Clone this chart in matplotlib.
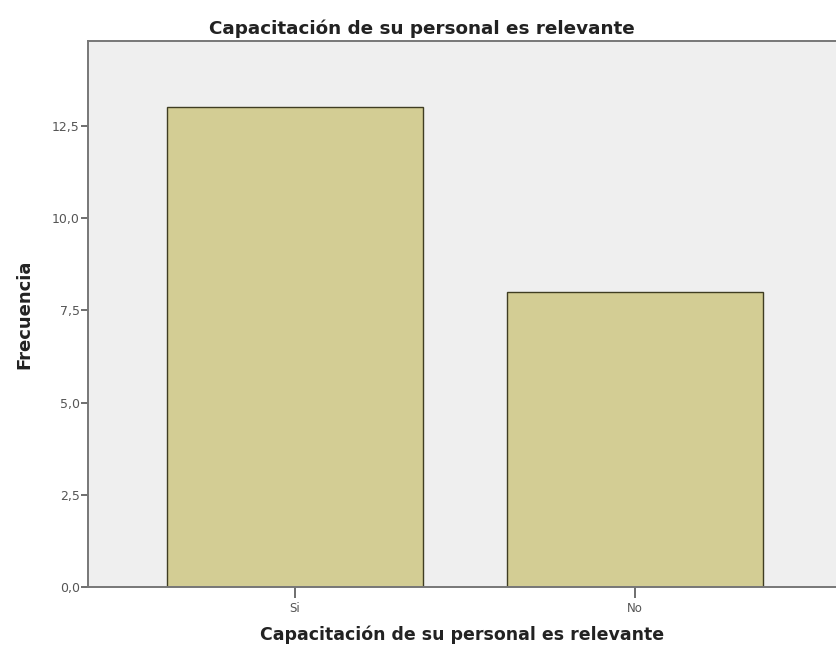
import matplotlib
matplotlib.use('Agg')
import matplotlib.pyplot as plt
from matplotlib.ticker import FuncFormatter

# Datos
categorias = ['Si', 'No']
frecuencias = [13, 8]
titulo = 'Capacitación de su personal es relevante'

plt.rcParams['font.family'] = ['DejaVu Sans']

fig = plt.figure(figsize=(8.37, 6.49), dpi=100)
ax = fig.add_axes([0.1051, 0.0955, 0.8949, 0.8413])
ax.set_facecolor('#efefef')

x = list(range(len(categorias)))
ax.bar(x, frecuencias, width=0.753, color='#d3cd94', edgecolor='#3f3d22', linewidth=1.0, zorder=2)

ax.set_xlim(-0.609, 1.594)
ax.set_ylim(0, 14.8)
ax.set_yticks([0, 2.5, 5, 7.5, 10, 12.5])
ax.yaxis.set_major_formatter(FuncFormatter(lambda v, p: f'{v:.1f}'.replace('.', ',')))
ax.set_xticks(x)
ax.set_xticklabels(categorias)
ax.tick_params(axis='y', labelsize=9, colors='#555555', length=5, width=1.2, pad=1)
ax.tick_params(axis='x', labelsize=8.5, colors='#555555', length=8, width=1.2, pad=3)

for side in ['left', 'bottom', 'top']:
    ax.spines[side].set_color('#777777')
    ax.spines[side].set_linewidth(1.4)
ax.spines['right'].set_visible(False)

fig.text(0.504, 0.956, titulo, fontsize=13.2, fontweight='bold', color='#222222',
         ha='center', va='center')
ax.set_xlabel(titulo, fontsize=12.5, fontweight='bold', color='#222222', labelpad=7)
ax.set_ylabel('Frecuencia', fontsize=13, fontweight='bold', color='#222222', labelpad=13)

fig.savefig('out.png', dpi=100)
